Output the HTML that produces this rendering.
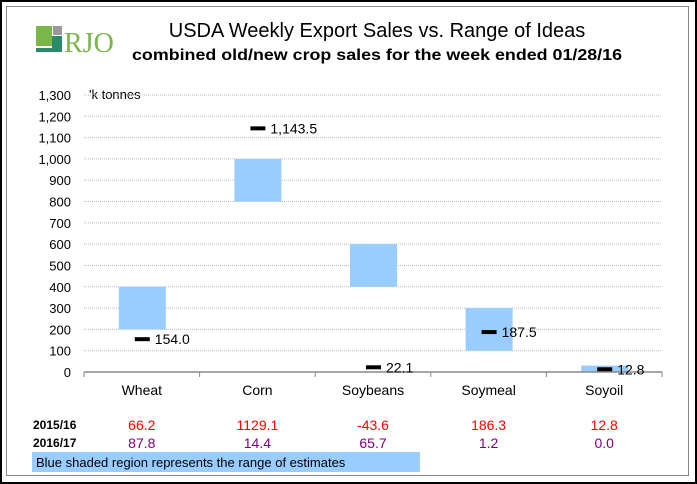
<!DOCTYPE html>
<html><head><meta charset="utf-8"><style>
body{margin:0;width:697px;height:484px;background:#fff;font-family:"Liberation Sans",Arial,sans-serif;overflow:hidden}
#frame{position:absolute;left:0;top:0;width:693px;height:480px;border:2px solid #000}
#inner{position:absolute;left:6px;top:6px;width:681px;height:468px;border:1px solid #888}
svg{position:absolute;left:0;top:0}
</style></head><body>
<div id="frame"></div>
<div id="inner"></div>
<svg width="697" height="484" id="chart">
<g>
<rect x="36" y="26" width="16" height="20" fill="#7ab648"/>
<rect x="53" y="26" width="9" height="9" fill="#999"/>
<polygon points="36,48 52,48 52,36 62,36 62,52 36,52" fill="#2a8a6a"/>
<text x="64" y="52" font-family="Liberation Serif,serif" font-size="28" fill="#7ab648">RJO</text>
</g>
<text x="377" y="37" text-anchor="middle" font-size="20" fill="#000">USDA Weekly Export Sales vs. Range of Ideas</text>
<text x="377" y="60" text-anchor="middle" font-size="16" font-weight="bold" fill="#000" textLength="490" lengthAdjust="spacingAndGlyphs">combined old/new crop sales for the week ended 01/28/16</text>
<text x="89" y="99" font-size="13" fill="#000">'k tonnes</text>
<g id="plot"></g>
<text x="33" y="429" font-size="12" font-weight="bold">2015/16</text>
<text x="33" y="447" font-size="12" font-weight="bold">2016/17</text>
<rect x="32" y="452" width="388" height="20" fill="#99ccff"/>
<text x="36" y="467" font-size="13" fill="#000">Blue shaded region represents the range of estimates</text>
</svg>
<script>
const categories=["Wheat","Corn","Soybeans","Soymeal","Soyoil"];
const rangeLow=[200,800,400,100,0];
const rangeHigh=[400,1000,600,300,30];
const actual=[154.0,1143.5,22.1,187.5,12.8];
const sales1516=["66.2","1129.1","-43.6","186.3","12.8"];
const sales1617=["87.8","14.4","65.7","1.2","0.0"];
const yTicks=[0,100,200,300,400,500,600,700,800,900,1000,1100,1200,1300];
const NS="http://www.w3.org/2000/svg";
const g=document.getElementById('plot');
const x0=84,x1=662,yBase=372,yTop=95,yMax=1300;
const bw=(x1-x0)/categories.length;
function Y(v){return yBase-(v/yMax)*(yBase-yTop);}
function X(i){return x0+bw*(i+0.5);}
function el(t,a,txt){const e=document.createElementNS(NS,t);for(const k in a)e.setAttribute(k,a[k]);if(txt!=null)e.textContent=txt;g.appendChild(e);return e;}
yTicks.forEach(v=>{
  if(v>0){const l=el('line',{x1:x0,x2:x1,y1:Y(v),y2:Y(v),stroke:'#bbb','stroke-dasharray':'1,1'});
  
  }
  const t=el('text',{x:71,y:Y(v)+5,'text-anchor':'end','font-size':13},v.toLocaleString('en-US'));
  
  
});
categories.forEach((c,i)=>{
  const r=el('rect',{x:X(i)-23,y:Y(rangeHigh[i]),width:47,height:Y(rangeLow[i])-Y(rangeHigh[i]),fill:'#99ccff'});
  
  
});
const ax=el('line',{x1:x0,x2:x1,y1:yBase,y2:yBase,stroke:'#888','stroke-width':1.5});


for(let i=0;i<=categories.length;i++){const tk=el('line',{x1:x0+bw*i,x2:x0+bw*i,y1:yBase,y2:yBase+5,stroke:'#888'});

}
categories.forEach((c,i)=>{
  const m=el('rect',{x:X(i)-7,y:Y(actual[i])-2,width:15,height:4,fill:'#000'});
  
  
  const lt=el('text',{x:X(i)+13,y:Y(actual[i])+5,'font-size':14},actual[i].toLocaleString('en-US',{minimumFractionDigits:1,maximumFractionDigits:1}));
  
  
  const ct=el('text',{x:X(i),y:395,'text-anchor':'middle','font-size':14},c);
  
  
  const a=el('text',{x:X(i),y:430,'text-anchor':'middle','font-size':14,fill:'#ff0000'},sales1516[i]);
  
  
  const b=el('text',{x:X(i),y:448,'text-anchor':'middle','font-size':14,fill:'#800080'},sales1617[i]);
  
  
});
</script>
</body></html>
